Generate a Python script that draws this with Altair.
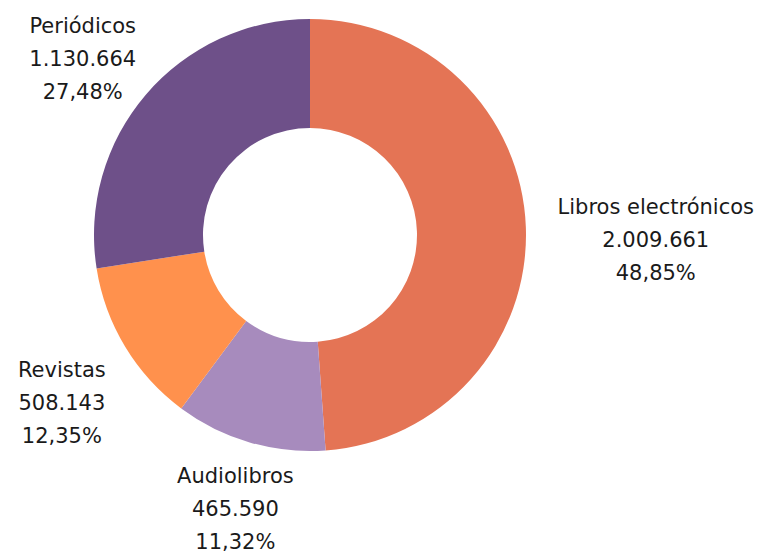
import altair as alt
import pandas as pd

categories = ["Libros electrónicos", "Audiolibros", "Revistas", "Periódicos"]
values = [2009661, 465590, 508143, 1130664]
colors = ["#E47455", "#A78BBD", "#FF914D", "#6E5089"]

total = sum(values)
def fmt_int(v):
    return f"{v:,}".replace(",", ".")
def fmt_pct(v):
    return f"{v / total * 100:.2f}".replace(".", ",") + "%"

df = pd.DataFrame({
    "category": categories,
    "value": values,
    "idx": list(range(len(categories))),
    "label": [f"{c}\n{fmt_int(v)}\n{fmt_pct(v)}" for c, v in zip(categories, values)],
})

# label distance from the centre (styling), per category
label_radius = {"Libros electrónicos": 346, "Audiolibros": 267, "Revistas": 290, "Periódicos": 299}

CX, CY = 302, 227
base = alt.Chart(df).encode(
    theta=alt.Theta("value:Q", stack=True),
    order=alt.Order("idx:Q"),
    x=alt.value(CX),
    y=alt.value(CY),
)

arcs = base.mark_arc(innerRadius=107, outerRadius=216).encode(
    color=alt.Color("category:N", scale=alt.Scale(domain=categories, range=colors), legend=None)
)

txt_kw = dict(font="DejaVu Sans", fontSize=21, lineBreak="\n", lineHeight=33, color="#1a1a1a",
              align="center", baseline="middle", dy=-14)

layers = [arcs]
for i, cat in enumerate(categories):
    layers.append(
        base.transform_calculate(
            t=f"datum.category === {cat!r} ? datum.label : ''"
        ).mark_text(radius=label_radius[cat], **txt_kw).encode(text="t:N")
    )

chart = alt.layer(*layers).properties(
    width=761, height=548, autosize="none", padding=0
).configure_view(stroke=None)

chart.save("out.html", embed_options={"renderer": "svg", "actions": False})
